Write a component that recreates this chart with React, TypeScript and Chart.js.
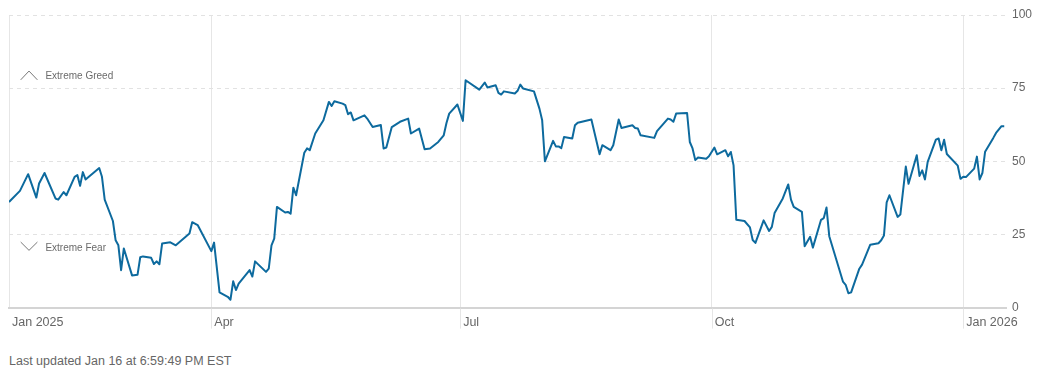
import React, { useEffect, useRef } from 'react';
import { Chart, registerables } from 'chart.js';

Chart.register(...registerables);

const dates: string[] = [
  '2025-01-17', '2025-01-21', '2025-01-24', '2025-01-27', '2025-01-28', '2025-01-30',
  '2025-02-03', '2025-02-04', '2025-02-06', '2025-02-07', '2025-02-10', '2025-02-11',
  '2025-02-12', '2025-02-13', '2025-02-14', '2025-02-19', '2025-02-20', '2025-02-21',
  '2025-02-24', '2025-02-25', '2025-02-26', '2025-02-27', '2025-02-28', '2025-03-03',
  '2025-03-05', '2025-03-06', '2025-03-07', '2025-03-10', '2025-03-11', '2025-03-12',
  '2025-03-13', '2025-03-14', '2025-03-17', '2025-03-19', '2025-03-24', '2025-03-25',
  '2025-03-27', '2025-04-01', '2025-04-02', '2025-04-04', '2025-04-07', '2025-04-08',
  '2025-04-09', '2025-04-10', '2025-04-11', '2025-04-15', '2025-04-16', '2025-04-17',
  '2025-04-21', '2025-04-22', '2025-04-23', '2025-04-24', '2025-04-25', '2025-04-28',
  '2025-04-29', '2025-04-30', '2025-05-01', '2025-05-02', '2025-05-05', '2025-05-06',
  '2025-05-07', '2025-05-09', '2025-05-12', '2025-05-14', '2025-05-15', '2025-05-16',
  '2025-05-19', '2025-05-20', '2025-05-21', '2025-05-22', '2025-05-23', '2025-05-27',
  '2025-05-28', '2025-05-30', '2025-06-02', '2025-06-03', '2025-06-04', '2025-06-06',
  '2025-06-09', '2025-06-12', '2025-06-13', '2025-06-16', '2025-06-18', '2025-06-20',
  '2025-06-23', '2025-06-25', '2025-06-26', '2025-06-27', '2025-06-30', '2025-07-02',
  '2025-07-03', '2025-07-08', '2025-07-10', '2025-07-11', '2025-07-14', '2025-07-15',
  '2025-07-16', '2025-07-17', '2025-07-21', '2025-07-22', '2025-07-23', '2025-07-24',
  '2025-07-28', '2025-07-30', '2025-07-31', '2025-08-01', '2025-08-04', '2025-08-05',
  '2025-08-06', '2025-08-07', '2025-08-08', '2025-08-11', '2025-08-12', '2025-08-13',
  '2025-08-18', '2025-08-21', '2025-08-22', '2025-08-25', '2025-08-26', '2025-08-28',
  '2025-08-29', '2025-09-02', '2025-09-03', '2025-09-04', '2025-09-05', '2025-09-10',
  '2025-09-11', '2025-09-15', '2025-09-16', '2025-09-17', '2025-09-18', '2025-09-22',
  '2025-09-23', '2025-09-24', '2025-09-25', '2025-09-26', '2025-09-29', '2025-09-30',
  '2025-10-02', '2025-10-03', '2025-10-06', '2025-10-07', '2025-10-08', '2025-10-09',
  '2025-10-10', '2025-10-13', '2025-10-15', '2025-10-16', '2025-10-17', '2025-10-20',
  '2025-10-22', '2025-10-23', '2025-10-24', '2025-10-27', '2025-10-29', '2025-10-30',
  '2025-10-31', '2025-11-03', '2025-11-04', '2025-11-06', '2025-11-07', '2025-11-10',
  '2025-11-11', '2025-11-12', '2025-11-13', '2025-11-18', '2025-11-19', '2025-11-20',
  '2025-11-21', '2025-11-24', '2025-11-25', '2025-11-28', '2025-12-01', '2025-12-02',
  '2025-12-03', '2025-12-04', '2025-12-05', '2025-12-08', '2025-12-09', '2025-12-11',
  '2025-12-12', '2025-12-15', '2025-12-16', '2025-12-17', '2025-12-18', '2025-12-19',
  '2025-12-22', '2025-12-23', '2025-12-24', '2025-12-25', '2025-12-26', '2025-12-30',
  '2025-12-31', '2026-01-01', '2026-01-02', '2026-01-05', '2026-01-06', '2026-01-07',
  '2026-01-08', '2026-01-09', '2026-01-12', '2026-01-13', '2026-01-15', '2026-01-16',
];

const values: number[] = [
  36.1, 39.9, 45.6, 37.6, 42.4, 46.0,
  37.3, 36.9, 39.5, 38.4, 44.7, 45.3,
  41.6, 46.3, 43.8, 47.7, 44.7, 36.9,
  29.6, 23.0, 21.3, 12.8, 20.2, 11.0,
  11.2, 17.2, 17.5, 17.0, 14.9, 15.8,
  14.8, 21.9, 22.3, 21.3, 25.3, 29.2,
  28.2, 19.3, 22.2, 5.2, 3.7, 2.7,
  9.0, 6.0, 8.2, 12.8, 10.6, 15.8,
  12.2, 13.3, 21.3, 23.6, 34.4, 32.5,
  32.7, 32.1, 41.0, 38.4, 52.9, 54.4,
  53.8, 59.5, 64.0, 70.3, 68.9, 70.5,
  69.7, 69.2, 66.1, 66.7, 64.0, 65.7,
  64.6, 61.7, 62.4, 54.4, 54.7, 61.7,
  63.5, 64.6, 59.5, 61.2, 54.1, 54.4,
  56.6, 58.9, 63.1, 66.3, 69.4, 63.8,
  77.7, 74.5, 76.9, 75.2, 76.0, 73.4,
  72.8, 73.9, 73.2, 74.1, 76.2, 74.9,
  73.9, 68.0, 64.0, 50.0, 57.0, 55.1,
  55.1, 54.5, 58.3, 57.8, 62.3, 63.2,
  64.3, 52.4, 55.5, 53.8, 55.5, 64.3,
  61.4, 62.3, 61.4, 61.2, 58.9, 58.0,
  60.3, 64.6, 64.3, 63.5, 66.3, 66.5,
  56.6, 54.4, 50.4, 51.3, 50.9, 51.7,
  54.7, 52.4, 53.8, 51.7, 53.2, 48.6,
  30.0, 29.6, 27.4, 23.1, 22.1, 29.8,
  26.2, 27.6, 32.3, 37.3, 42.1, 36.9,
  34.4, 32.7, 21.0, 24.2, 20.5, 30.0,
  30.6, 34.2, 24.4, 8.9, 7.8, 4.9,
  5.2, 13.3, 14.7, 21.5, 22.0, 23.0,
  24.6, 36.0, 38.4, 31.0, 31.8, 48.2,
  42.3, 52.1, 45.0, 46.9, 43.8, 49.8,
  57.4, 57.8, 53.8, 57.4, 52.5, 48.5,
  44.0, 44.7, 44.6, 47.5, 51.6, 43.8,
  46.0, 53.3, 58.0, 59.7, 62.0, 62.0,
];

const rangeStart = '2025-01-17';
const rangeEnd = '2026-01-17';
const tickDates: string[] = ['2025-01-17', '2025-04-01', '2025-07-01', '2025-10-01', '2026-01-01'];
const tickLabels: string[] = ['Jan 2025', 'Apr', 'Jul', 'Oct', 'Jan 2026'];
const yTicks: number[] = [0, 25, 50, 75, 100];
const zoneLabels: string[] = ['Extreme Greed', 'Extreme Fear'];
const zoneThresholds: number[] = [75, 25];
const updatedText = 'Last updated Jan 16 at 6:59:49 PM EST';

const FONT = '"Liberation Sans", Arial, Helvetica, sans-serif';
const LINE_COLOR = '#0d6a9e';
const TEXT_COLOR = '#666666';
const VGRID = '#e6e6e6';

function dayIndex(s: string): number {
  const [y, m, d] = s.split('-').map(Number);
  return (Date.UTC(y, m - 1, d) - Date.UTC(2025, 0, 1)) / 86400000;
}

const zonePlugin = {
  id: 'zones',
  afterDraw(chart: any) {
    const ctx = chart.ctx;
    const yScale = chart.scales.y;
    const xScale = chart.scales.x;
    const area = chart.chartArea;
    const left = area.left;

    // vertical tick extensions below the axis, beside each month label
    ctx.save();
    ctx.strokeStyle = VGRID;
    ctx.lineWidth = 1;
    xScale.ticks.forEach((_t: any, i: number) => {
      if (i === 0) return;
      const px = Math.round(xScale.getPixelForTick(i)) + 0.5;
      ctx.beginPath();
      ctx.moveTo(px, area.bottom + 1);
      ctx.lineTo(px, area.bottom + 21);
      ctx.stroke();
    });
    ctx.restore();

    zoneLabels.forEach((label, i) => {
      const up = i === 0;
      const base = yScale.getPixelForValue(zoneThresholds[i]);
      const cy = up ? base - 11.6 : base + 13.4;
      ctx.save();
      ctx.strokeStyle = '#777777';
      ctx.lineWidth = 1;
      ctx.beginPath();
      if (up) {
        ctx.moveTo(left + 11.7, cy + 3.3);
        ctx.lineTo(left + 20, cy - 5.5);
        ctx.lineTo(left + 28.4, cy + 3.3);
      } else {
        ctx.moveTo(left + 11.7, cy - 5.8);
        ctx.lineTo(left + 20, cy + 2.5);
        ctx.lineTo(left + 28.4, cy - 5.8);
      }
      ctx.stroke();
      ctx.font = `10px ${FONT}`;
      ctx.fillStyle = '#6b6b6b';
      ctx.textBaseline = 'middle';
      ctx.textAlign = 'left';
      ctx.fillText(label, left + 36.4, cy);
      ctx.restore();
    });
  },
};

export default function App() {
  const canvasRef = useRef<HTMLCanvasElement | null>(null);

  useEffect(() => {
    const canvas = canvasRef.current;
    if (!canvas) return;
    const chart = new Chart(canvas, {
      type: 'line',
      data: {
        datasets: [
          {
            data: dates.map((d, i) => ({ x: dayIndex(d), y: values[i] })),
            borderColor: LINE_COLOR,
            borderWidth: 2,
            pointRadius: 0,
            tension: 0,
            fill: false,
            borderJoinStyle: 'round',
          },
        ],
      },
      options: {
        animation: false,
        responsive: false,
        events: [],
        layout: { padding: { left: 9, right: 4, top: 15, bottom: 3 } },
        plugins: { legend: { display: false }, tooltip: { enabled: false } },
        scales: {
          x: {
            type: 'linear',
            min: dayIndex(rangeStart),
            max: dayIndex(rangeEnd),
            afterBuildTicks: (s: any) => {
              s.ticks = tickDates.map((d) => ({ value: dayIndex(d) }));
            },
            ticks: {
              callback: (_v: any, i: number) => tickLabels[i],
              align: 'start',
              labelOffset: 3,
              padding: 7.2,
              autoSkip: false,
              maxRotation: 0,
              color: TEXT_COLOR,
              font: { family: FONT, size: 12.5 },
            },
            grid: {
              color: VGRID,
              lineWidth: 1,
              drawTicks: false,
            },
            border: { display: true, color: '#d4d4d4', width: 2 },
          },
          y: {
            position: 'right',
            min: 0,
            max: 100,
            afterBuildTicks: (s: any) => {
              s.ticks = yTicks.map((v) => ({ value: v }));
            },
            ticks: {
              padding: 5,
              color: TEXT_COLOR,
              font: { family: FONT, size: 12 },
            },
            grid: {
              color: (c: any) => (c.tick && c.tick.value === 0 ? 'rgba(0,0,0,0)' : '#e2e2e2'),
              lineWidth: 1,
              drawTicks: false,
            },
            border: { display: false, dash: [4, 4] },
          },
        },
      },
      plugins: [zonePlugin],
    } as any);
    return () => chart.destroy();
  }, []);

  return (
    <div style={{ position: 'absolute', left: 0, top: 0, width: 1041, height: 375, background: '#fff' }}>
      <canvas ref={canvasRef} width={1041} height={340} style={{ display: 'block' }} />
      <div
        style={{
          position: 'absolute',
          left: 9,
          top: 353,
          fontFamily: FONT,
          fontSize: 12.5,
          lineHeight: '16px',
          color: TEXT_COLOR,
          whiteSpace: 'nowrap',
        }}
      >
        {updatedText}
      </div>
    </div>
  );
}
